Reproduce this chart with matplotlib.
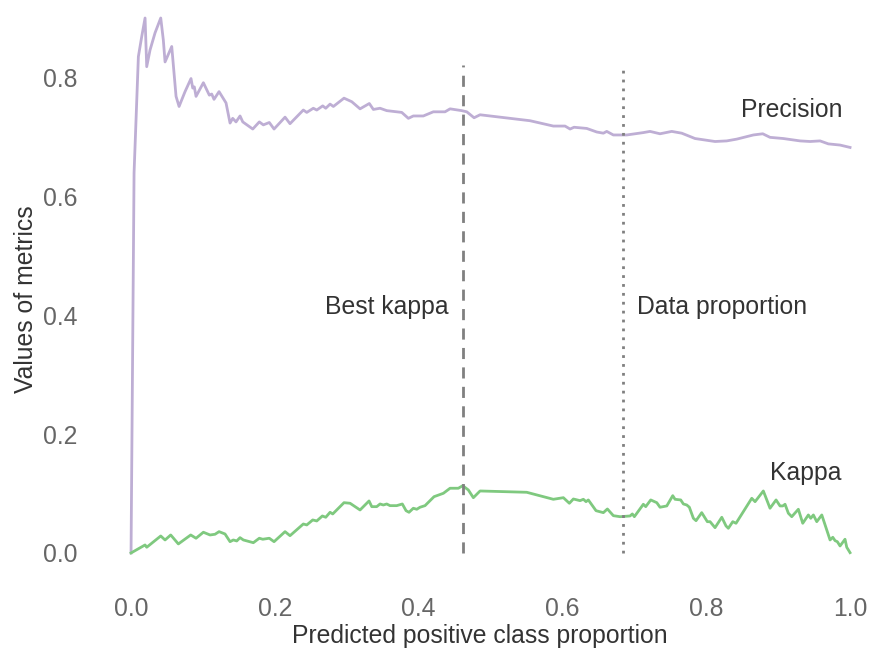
import matplotlib
matplotlib.use("Agg")
import matplotlib.pyplot as plt

# Precision curve (x = predicted positive proportion)
prec_x = [0.0, 0.0042, 0.0102, 0.0149, 0.0195, 0.0218, 0.0264, 0.0334, 0.0413, 0.0449,
          0.0473, 0.0566, 0.0626, 0.0668, 0.0751, 0.0834, 0.0858, 0.0880, 0.0904, 0.1006,
          0.1089, 0.1122, 0.1154, 0.1224, 0.1321, 0.1377, 0.1414, 0.1460, 0.1516, 0.1554,
          0.1693, 0.1784, 0.1840, 0.1923, 0.1989, 0.2142, 0.2211, 0.2396, 0.2444, 0.2535,
          0.2583, 0.2666, 0.2708, 0.2768, 0.2814, 0.2962, 0.3070, 0.3185, 0.3314, 0.3370,
          0.3463, 0.3556, 0.3765, 0.3857, 0.3926, 0.4065, 0.4204, 0.4367, 0.4437, 0.4599,
          0.4669, 0.4771, 0.4854, 0.5549, 0.5873, 0.6036, 0.6106, 0.6161, 0.6338, 0.6477,
          0.6569, 0.6616, 0.6708, 0.6894, 0.7125, 0.7218, 0.7357, 0.7520, 0.7659, 0.7844,
          0.8122, 0.8285, 0.8424, 0.8655, 0.8786, 0.8887, 0.9072, 0.9305, 0.9444, 0.9583,
          0.9698, 0.9861, 1.0]
prec_y = [0.0, 0.640, 0.836, 0.870, 0.901, 0.819, 0.847, 0.876, 0.901, 0.864,
          0.827, 0.853, 0.769, 0.752, 0.777, 0.799, 0.783, 0.785, 0.769, 0.792,
          0.771, 0.773, 0.764, 0.777, 0.758, 0.724, 0.732, 0.726, 0.736, 0.726,
          0.714, 0.726, 0.721, 0.725, 0.714, 0.734, 0.723, 0.746, 0.742, 0.749,
          0.746, 0.753, 0.749, 0.756, 0.752, 0.766, 0.760, 0.748, 0.757, 0.747,
          0.749, 0.745, 0.742, 0.732, 0.736, 0.736, 0.743, 0.743, 0.748, 0.745,
          0.743, 0.733, 0.738, 0.728, 0.719, 0.719, 0.714, 0.717, 0.715, 0.709,
          0.707, 0.710, 0.704, 0.704, 0.708, 0.710, 0.706, 0.710, 0.707, 0.698,
          0.693, 0.694, 0.697, 0.704, 0.706, 0.700, 0.698, 0.694, 0.693, 0.694,
          0.689, 0.687, 0.683]

# Kappa curve
kappa_x = [0.0, 0.0195, 0.0218, 0.0413, 0.0473, 0.0552, 0.0658, 0.0830, 0.0904, 0.1006,
           0.1099, 0.1168, 0.1224, 0.1307, 0.1377, 0.1423, 0.1470, 0.1516, 0.1562, 0.1701,
           0.1784, 0.1832, 0.1923, 0.1989, 0.2142, 0.2211, 0.2396, 0.2444, 0.2527, 0.2583,
           0.2661, 0.2708, 0.2768, 0.2805, 0.2962, 0.3046, 0.3185, 0.3310, 0.3348, 0.3417,
           0.3463, 0.3509, 0.3556, 0.3602, 0.3695, 0.3773, 0.3825, 0.3866, 0.3926, 0.3974,
           0.4019, 0.4089, 0.4214, 0.4344, 0.4437, 0.4552, 0.4613, 0.4691, 0.4761, 0.4854,
           0.5503, 0.5873, 0.6013, 0.6096, 0.6152, 0.6245, 0.6291, 0.6328, 0.6360, 0.6467,
           0.6569, 0.6625, 0.6708, 0.6801, 0.6940, 0.6972, 0.7000, 0.7125, 0.7158, 0.7228,
           0.7312, 0.7357, 0.7451, 0.7534, 0.7566, 0.7645, 0.7682, 0.7729, 0.7765, 0.7821,
           0.7858, 0.7937, 0.8015, 0.8053, 0.8122, 0.8216, 0.8275, 0.8307, 0.8369, 0.8414,
           0.8633, 0.8679, 0.8794, 0.8887, 0.8971, 0.9026, 0.9064, 0.9096, 0.9142, 0.9189,
           0.9281, 0.9342, 0.9420, 0.9453, 0.9490, 0.9537, 0.9607, 0.9722, 0.9760, 0.9792,
           0.9823, 0.9861, 0.9930, 0.9954, 1.0]
kappa_y = [0.0, 0.0135, 0.0096, 0.0286, 0.0219, 0.0303, 0.0152, 0.0303, 0.0248, 0.0349,
           0.0303, 0.0315, 0.0359, 0.0320, 0.0190, 0.0219, 0.0202, 0.0258, 0.0219, 0.0173,
           0.0248, 0.0231, 0.0248, 0.0190, 0.0359, 0.0291, 0.0488, 0.0472, 0.0556, 0.0539,
           0.0623, 0.0601, 0.0685, 0.0657, 0.0847, 0.0837, 0.0724, 0.0876, 0.0780, 0.0780,
           0.0825, 0.0808, 0.0825, 0.0797, 0.0797, 0.0825, 0.0712, 0.0685, 0.0753, 0.0736,
           0.0770, 0.0797, 0.0948, 0.1005, 0.1090, 0.1090, 0.1133, 0.1061, 0.0931, 0.1044,
           0.1022, 0.0904, 0.0931, 0.0837, 0.0909, 0.0881, 0.0904, 0.0864, 0.0893, 0.0712,
           0.0679, 0.0741, 0.0628, 0.0611, 0.0623, 0.0657, 0.0611, 0.0820, 0.0780, 0.0893,
           0.0847, 0.0770, 0.0792, 0.0965, 0.0904, 0.0893, 0.0825, 0.0808, 0.0770, 0.0584,
           0.0544, 0.0679, 0.0527, 0.0527, 0.0426, 0.0601, 0.0455, 0.0416, 0.0527, 0.0500,
           0.0921, 0.0864, 0.1044, 0.0753, 0.0893, 0.0792, 0.0792, 0.0820, 0.0669, 0.0611,
           0.0736, 0.0500, 0.0640, 0.0584, 0.0640, 0.0527, 0.0640, 0.0219, 0.0264, 0.0207,
           0.0190, 0.0118, 0.0231, 0.0096, 0.0005]

best_kappa_x = 0.461
data_prop_x = 0.684
vline_top = 0.822

plt.rcParams['font.family'] = ['Liberation Sans', 'DejaVu Sans']

fig = plt.figure(figsize=(8.7, 6.52), dpi=100)
ax = fig.add_axes([0.1093, 0.0836, 0.8843, 0.9152])

ax.plot(prec_x, prec_y, color='#beaed4', lw=2.0)
ax.plot(kappa_x, kappa_y, color='#7fc97f', lw=2.0)

ax.vlines(best_kappa_x, 0, vline_top, colors='#808080', linestyles=(0, (4, 3)), lw=2.0)
ax.vlines(data_prop_x, 0, vline_top, colors='#808080', linestyles=(0, (1, 2.2)), lw=2.0)

fs = 17.8
txt = dict(fontsize=fs, color='#333333')
ax.text(best_kappa_x - 0.02, 0.414, 'Best kappa', ha='right', va='center', **txt)
ax.text(data_prop_x + 0.02, 0.414, 'Data proportion', ha='left', va='center', **txt)
ax.text(0.919, 0.746, 'Precision', ha='center', va='center', **txt)
ax.text(0.939, 0.135, 'Kappa', ha='center', va='center', **txt)

ax.set_xlim(-0.05, 1.02)
ax.set_ylim(-0.075, 0.93)
ax.set_xticks([0.0, 0.2, 0.4, 0.6, 0.8, 1.0])
ax.set_yticks([0.0, 0.2, 0.4, 0.6, 0.8])
ax.tick_params(axis='both', length=0, labelsize=fs, labelcolor='#666666')
ax.tick_params(axis='y', pad=13)
ax.tick_params(axis='x', pad=0)
for s in ax.spines.values():
    s.set_visible(False)

ax.set_xlabel('Predicted positive class proportion', fontsize=fs, color='#333333', labelpad=2)
ax.set_ylabel('Values of metrics', fontsize=fs, color='#333333', labelpad=3)

fig.savefig('out.png', dpi=100)
